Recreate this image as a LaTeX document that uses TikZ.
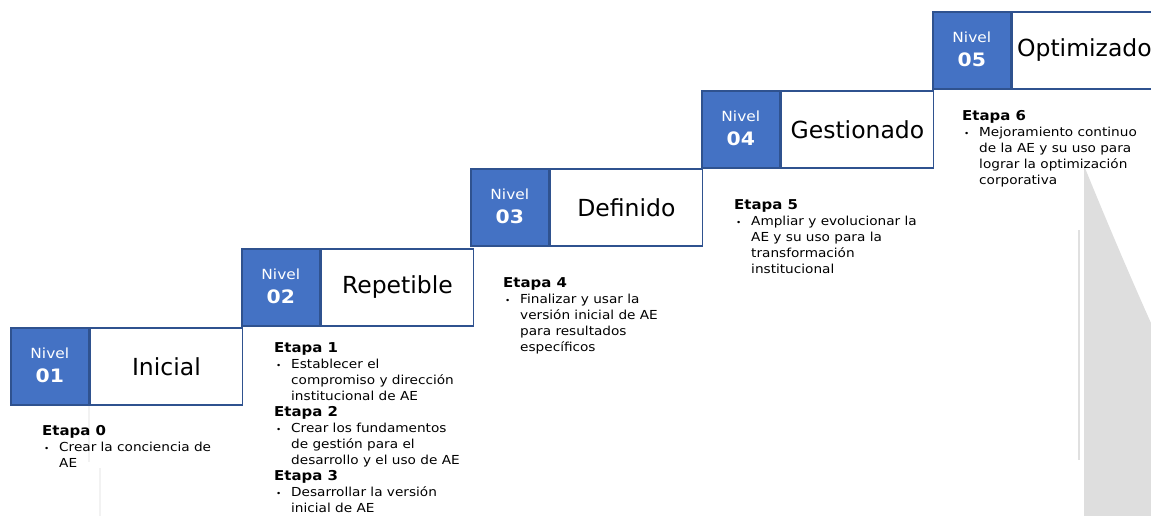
\documentclass[tikz,border=0pt]{standalone}
\usepackage{fontspec}
\setmainfont[FakeStretch=1.1]{DejaVu Sans}
\newfontfamily\labelfont{DejaVu Sans}
\definecolor{lvlblue}{HTML}{4472C4}
\definecolor{lvlborder}{HTML}{2F528F}
\definecolor{shadegray}{HTML}{DEDEDE}
\newcommand{\bul}[1]{\makebox[17pt][l]{\hspace{2pt}{\fontsize{8}{8}\selectfont •}}#1}
\newcommand{\ind}[1]{\hspace{17pt}#1}
\newcommand{\etapa}[1]{{\bfseries\fontsize{13.6}{16}\selectfont #1}}
\tikzset{
  bluebox/.style={draw=lvlborder, fill=lvlblue, line width=1.6pt, minimum width=78pt, minimum height=77pt, inner sep=0pt, anchor=north west},
  whitebox/.style={draw=lvlborder, fill=white, line width=1.6pt, minimum width=152pt, minimum height=77pt, inner sep=0pt, anchor=north west},
  labeltxt/.style={inner sep=0pt, font=\labelfont\fontsize{23.5}{26}\selectfont},
  niveltxt/.style={text=white, font=\fontsize{14}{16}\selectfont, inner sep=0pt},
  numtxt/.style={text=white, font=\bfseries\fontsize{18.5}{20}\selectfont, inner sep=0pt},
  stagetxt/.style={anchor=north west, inner sep=0pt, align=left, font=\fontsize{12.4}{16}\selectfont},
  faint/.style={black!5, line width=2pt}
}
\begin{document}
\begin{tikzpicture}[x=1pt,y=-1pt]
\useasboundingbox (0,0) rectangle (1151,516);
\clip (0,0) rectangle (1151,516);
% background shading and faint marks
\fill[shadegray] (1085,168) .. controls (1100,205) and (1125,265) .. (1151,323) -- (1151,516) -- (1084,516) -- (1084,168) -- cycle;
\draw[black!12, line width=1.5pt] (1079,230) -- (1079,460);
\draw[faint] (89,405) -- (89,462);
\draw[faint] (100,468) -- (100,516);
% levels
\foreach \x/\y/\n/\lab/\dx in {10/327/01/Inicial/0, 241/248/02/Repetible/0, 470/168/03/Definido/0, 701/90/04/Gestionado/0, 932/11/05/Optimizado/-4}{
  \node[bluebox] (b\n) at (\x,\y) {};
  \node[whitebox] (w\n) at (b\n.north east) {};
  \node[labeltxt] (l\n) at ([xshift=\dx pt]w\n.center) {\lab};
  \node[niveltxt] (nv\n) at ([yshift=-26pt]b\n.north) {Nivel};
  \node[numtxt] (nm\n) at ([yshift=-49pt]b\n.north) {\n};
}
% stages
\node[stagetxt] (e0) at (42,425) {\etapa{Etapa 0}\\ \bul{Crear la conciencia de}\\ \ind{AE}};
\node[stagetxt] (e1) at (274,342.5) {\etapa{Etapa 1}\\ \bul{Establecer el}\\ \ind{compromiso y dirección}\\ \ind{institucional de AE}\\
 \etapa{Etapa 2}\\ \bul{Crear los fundamentos}\\ \ind{de gestión para el}\\ \ind{desarrollo y el uso de AE}\\
 \etapa{Etapa 3}\\ \bul{Desarrollar la versión}\\ \ind{inicial de AE}};
\node[stagetxt] (e4) at (503,277) {\etapa{Etapa 4}\\ \bul{Finalizar y usar la}\\ \ind{versión inicial de AE}\\ \ind{para resultados}\\ \ind{específicos}};
\node[stagetxt] (e5) at (734,199) {\etapa{Etapa 5}\\ \bul{Ampliar y evolucionar la}\\ \ind{AE y su uso para la}\\ \ind{transformación}\\ \ind{institucional}};
\node[stagetxt] (e6) at (962,110) {\etapa{Etapa 6}\\ \bul{Mejoramiento continuo}\\ \ind{de la AE y su uso para}\\ \ind{lograr la optimización}\\ \ind{corporativa}};
\end{tikzpicture}
\end{document}
